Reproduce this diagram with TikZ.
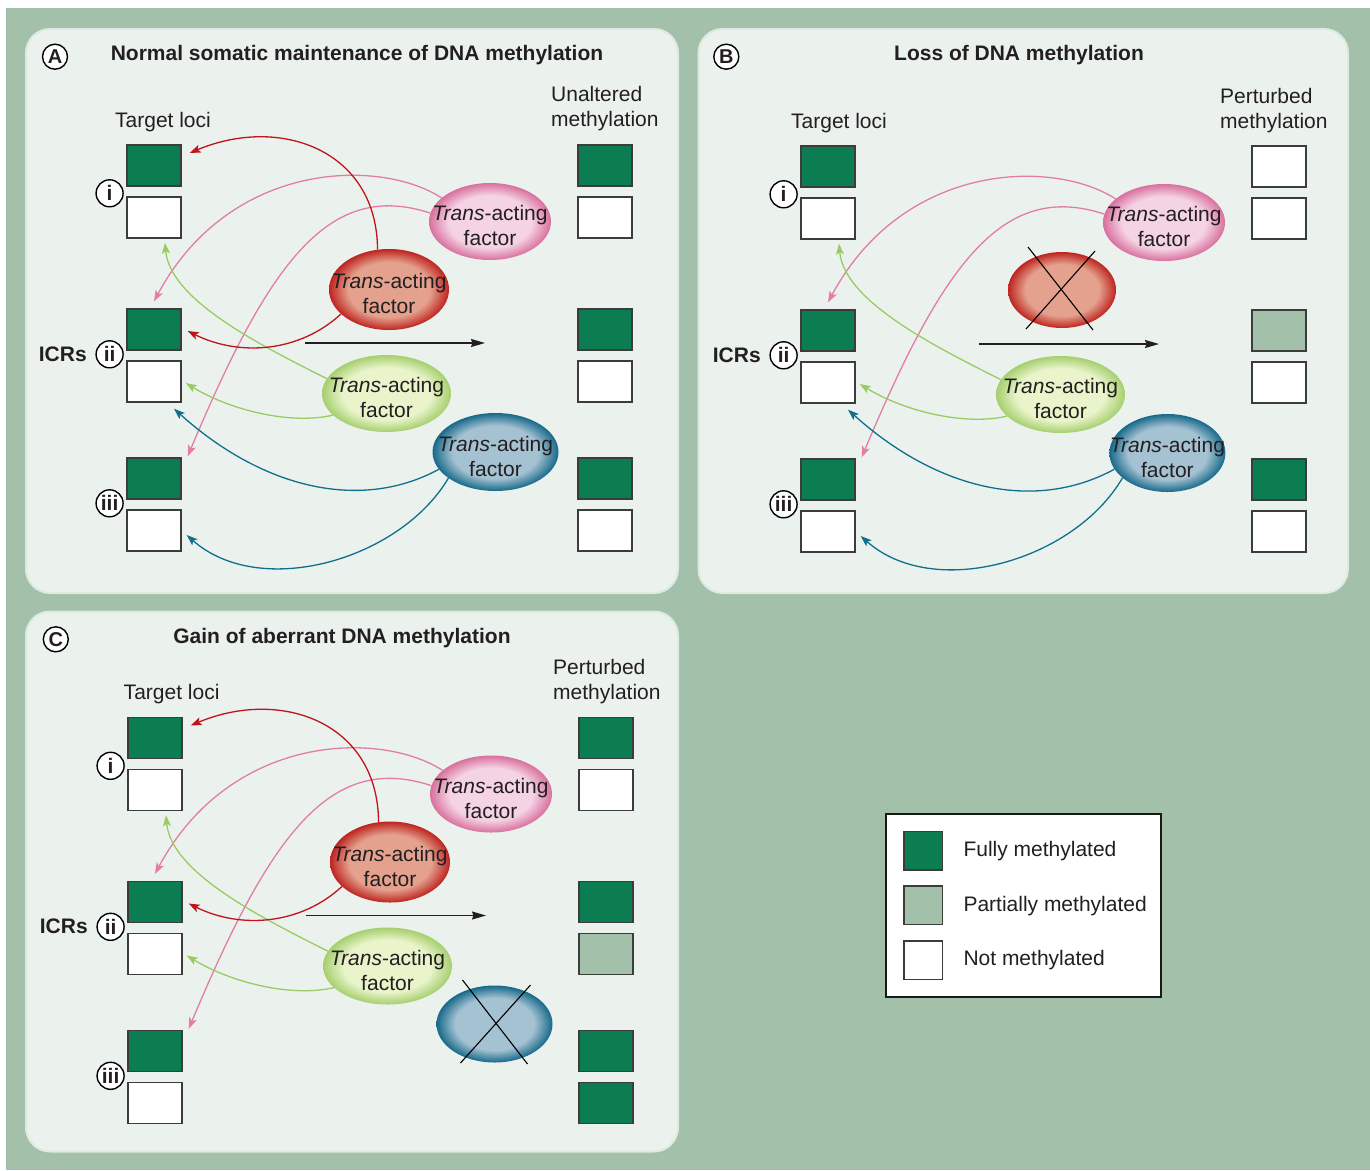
\documentclass[tikz,border=0pt]{standalone}
\usepackage{fontspec}
\setmainfont{Liberation Sans}
\usetikzlibrary{shapes.geometric,arrows.meta,calc}

\definecolor{bgsage}{HTML}{A3C1AA}
\definecolor{panelc}{HTML}{EBF2EE}
\definecolor{panelrim}{HTML}{DDE9E1}
\definecolor{fullg}{HTML}{0B7D50}
\definecolor{partg}{HTML}{A3C1AA}
\definecolor{boxline}{HTML}{3C3C3C}
\definecolor{txt}{HTML}{231F20}
\definecolor{pinkin}{HTML}{F4D3E4}
\definecolor{pinkout}{HTML}{D9709E}
\definecolor{redin}{HTML}{E4A28E}
\definecolor{redout}{HTML}{BE2420}
\definecolor{grin}{HTML}{E9F4CB}
\definecolor{grout}{HTML}{A6CF6E}
\definecolor{blin}{HTML}{A5C2D2}
\definecolor{blout}{HTML}{17698A}
\definecolor{redln}{HTML}{C0131C}
\definecolor{pinkln}{HTML}{E27DA5}
\definecolor{grln}{HTML}{9ACB62}
\definecolor{blln}{HTML}{0F6F8C}

\pgfdeclareradialshading{pinkshade}{\pgfpointorigin}{color(0bp)=(pinkin); color(17bp)=(pinkin); color(25bp)=(pinkout); color(50bp)=(pinkout)}
\pgfdeclareradialshading{redshade}{\pgfpointorigin}{color(0bp)=(redin); color(17bp)=(redin); color(25bp)=(redout); color(50bp)=(redout)}
\pgfdeclareradialshading{grshade}{\pgfpointorigin}{color(0bp)=(grin); color(17bp)=(grin); color(25bp)=(grout); color(50bp)=(grout)}
\pgfdeclareradialshading{blshade}{\pgfpointorigin}{color(0bp)=(blin); color(17bp)=(blin); color(25bp)=(blout); color(50bp)=(blout)}

\tikzset{
  txtf/.style={font=\fontsize{21}{25}\selectfont, text=txt, inner sep=0pt, align=center},
  ttl/.style={font=\fontsize{21}{25}\selectfont\bfseries, text=txt, inner sep=0pt, anchor=base},
  mbox/.style={rectangle, draw=boxline, line width=1.4pt, minimum width=54pt, minimum height=41pt, inner sep=0pt},
  mfull/.style={mbox, fill=fullg},
  mpart/.style={mbox, fill=partg},
  mnone/.style={mbox, fill=white},
  numc/.style={circle, draw=black, line width=1.4pt, fill=white, minimum size=27pt, inner sep=0pt, font=\fontsize{21}{21}\selectfont\bfseries, text=txt},
  letc/.style={circle, draw=black, line width=1.4pt, fill=white, minimum size=25pt, inner sep=0pt, font=\fontsize{20}{20}\selectfont\bfseries, text=txt},
  fac/.style={ellipse, inner sep=0pt, draw=none, shade},
  panel/.style={fill=panelc, draw=panelrim, line width=2pt, rounded corners=24pt},
  carr/.style={line width=1.3pt, -{Stealth[length=11pt,width=8pt,inset=2.5pt]}},
  redarr/.style={carr, draw=redln},
  pinkarr/.style={carr, draw=pinkln},
  grarr/.style={carr, draw=grln},
  blarr/.style={carr, draw=blln},
  blkarr/.style={line width=1.5pt, draw=txt, -{Stealth[length=14pt,width=8pt,inset=1.5pt]}},
  xline/.style={line width=1.1pt, draw=black},
  legt/.style={font=\fontsize{21}{25}\selectfont, text=txt, inner sep=0pt, anchor=base west}
}

\newcommand\mkLeftCol{%
  \node[mfull] (L1) at (154,165.5) {};
  \node[mnone] (L2) at (154,217.5) {};
  \node[mfull] (L3) at (154,329.5) {};
  \node[mnone] (L4) at (154,381.5) {};
  \node[mfull] (L5) at (154,478.5) {};
  \node[mnone] (L6) at (154,530.5) {};
  \node[numc] (n1) at (109.6,193.3) {i};
  \node[numc] (n2) at (109.6,354.3) {ii};
  \node[numc] (n3) at (109.6,503.3) {iii};
  \node[ttl] (icr) at (62.8,361) {ICRs};
}
\newcommand\mkRightCol[6]{%
  \node[#1] (R1) at (605,165.5) {};
  \node[#2] (R2) at (605,217.5) {};
  \node[#3] (R3) at (605,329.5) {};
  \node[#4] (R4) at (605,381.5) {};
  \node[#5] (R5) at (605,478.5) {};
  \node[#6] (R6) at (605,530.5) {};
  \coordinate (a1) at (305,343);
  \coordinate (a2) at (485,343);
  \draw[blkarr] (a1) -- (a2);
}
\newcommand\mkPinkGreen{%
  \node[fac, shading=pinkshade, minimum width=122pt, minimum height=77pt] (P) at (490,221.5) {};
  \node[txtf] (Pt) at ([yshift=-4pt]P.center) {{\itshape Trans}-acting\\factor};
  \node[fac, shading=grshade, minimum width=129pt, minimum height=77pt] (G) at (386.5,393.5) {};
  \node[txtf] (Gt) at ([yshift=-4pt]G.center) {{\itshape Trans}-acting\\factor};
  \draw[pinkarr] (P.154) .. controls (380,158) and (230,160) .. ([shift={(0,-7)}]L3.north);
  \draw[pinkarr] (P.172) .. controls (330,180) and (270,260) .. ([shift={(6,-1)}]L5.north east);
  \draw[grarr] (G.166) .. controls (260,345) and (170,300) .. ([shift={(11,4)}]L2.south);
  \draw[grarr] (G.202) .. controls (290,425) and (230,410) .. ([shift={(4,1.5)}]L4.east);
}
\newcommand\mkRedOn{%
  \node[fac, shading=redshade, minimum width=120pt, minimum height=81pt] (Rd) at (389,289.5) {};
  \node[txtf] (Rdt) at ([yshift=-4pt]Rd.center) {{\itshape Trans}-acting\\factor};
  \draw[redarr] (Rd.106) .. controls (377,150) and (280,115) .. ([shift={(8,-12.5)}]L1.east);
  \draw[redarr] (Rd.207) .. controls (300,352) and (240,357) .. ([shift={(6,1.5)}]L3.east);
}
\newcommand\mkBlueOn[2]{%
  \node[fac, shading=blshade, minimum width=#1, minimum height=78pt] (Bl) at (#2,452) {};
  \node[txtf] (Blt) at ([yshift=-4pt]Bl.center) {{\itshape Trans}-acting\\factor};
  \draw[blarr] (Bl.197) .. controls (360,512) and (262,488) .. ([shift={(20,6)}]L4.south);
  \draw[blarr] (Bl.209) .. controls (400,560) and (260,600) .. ([shift={(5,4.5)}]L6.east);
}

\begin{document}
\begin{tikzpicture}[x=1pt,y=-1pt]
\useasboundingbox (0,0) rectangle (1370,1170);
\fill[white] (0,0) rectangle (1370,1170);
\fill[bgsage] (6,8) rectangle (1370,1170);
\draw[panel] (26,29) rectangle (678,593);
\draw[panel] (698.5,29) rectangle (1348,593);
\draw[panel] (26,611.5) rectangle (678,1151.5);

% ---------- Panel A ----------
\node[letc] (Alet) at (55,56.7) {A};
\node[ttl] (Atitle) at (357,60.7) {Normal somatic maintenance of DNA methylation};
\node[txtf, anchor=base] (Atl) at (163,127) {Target loci};
\node[txtf, align=left, anchor=west] (Ahd) at (551,108.7) {Unaltered\\methylation};
\begin{scope}[name prefix=A-]
  \mkLeftCol
  \mkRightCol{mfull}{mnone}{mfull}{mnone}{mfull}{mnone}
  \mkPinkGreen
  \mkRedOn
  \mkBlueOn{126pt}{495.5}
\end{scope}

% ---------- Panel B ----------
\node[letc] (Blet) at (726.3,56.7) {B};
\node[ttl] (Btitle) at (1019,60.7) {Loss of DNA methylation};
\node[txtf, anchor=base] (Btl) at (839,128.3) {Target loci};
\node[txtf, align=left, anchor=west] (Bhd) at (1220,110.7) {Perturbed\\methylation};
\begin{scope}[shift={(674,1)}, name prefix=B-]
  \mkLeftCol
  \mkRightCol{mnone}{mnone}{mpart}{mnone}{mfull}{mnone}
  \mkPinkGreen
  \node[fac, shading=redshade, minimum width=108pt, minimum height=76pt] (Rd) at (388,289) {};
  \draw[xline] ([shift={(-34,-43)}]Rd.center) -- ([shift={(31,40)}]Rd.center);
  \draw[xline] ([shift={(33,-39)}]Rd.center) -- ([shift={(-36,39)}]Rd.center);
  \mkBlueOn{116pt}{493.4}
\end{scope}

% ---------- Panel C ----------
\node[letc] (Clet) at (55.8,639.3) {C};
\node[ttl] (Ctitle) at (342,643.3) {Gain of aberrant DNA methylation};
\node[txtf, anchor=base] (Ctl) at (171.6,699.3) {Target loci};
\node[txtf, align=left, anchor=west] (Chd) at (553,681.5) {Perturbed\\methylation};
\begin{scope}[shift={(1,572.5)}, name prefix=C-]
  \mkLeftCol
  \mkRightCol{mfull}{mnone}{mfull}{mpart}{mfull}{mfull}
  \mkPinkGreen
  \mkRedOn
  \node[fac, shading=blshade, minimum width=116pt, minimum height=77pt] (Bl) at (493.5,451.5) {};
  \draw[xline] ([shift={(-32,-44)}]Bl.center) -- ([shift={(33,40)}]Bl.center);
  \draw[xline] ([shift={(36,-39)}]Bl.center) -- ([shift={(-34,39)}]Bl.center);
\end{scope}

% ---------- Legend ----------
\node[rectangle, draw=black!90, line width=2pt, fill=white, minimum width=275pt, minimum height=182.5pt, inner sep=0pt] (leg) at (1023.3,905.3) {};
\node[mfull, minimum width=38.5pt, minimum height=38.5pt] (lg1) at (923.3,850.8) {};
\node[mpart, minimum width=38.5pt, minimum height=38.5pt] (lg2) at (923.3,905.1) {};
\node[mnone, minimum width=38.5pt, minimum height=38.5pt] (lg3) at (923.3,960.1) {};
\node[legt] (lt1) at (963.3,856.7) {Fully methylated};
\node[legt] (lt2) at (963.3,911) {Partially methylated};
\node[legt] (lt3) at (963.3,965.7) {Not methylated};
\end{tikzpicture}
\end{document}
